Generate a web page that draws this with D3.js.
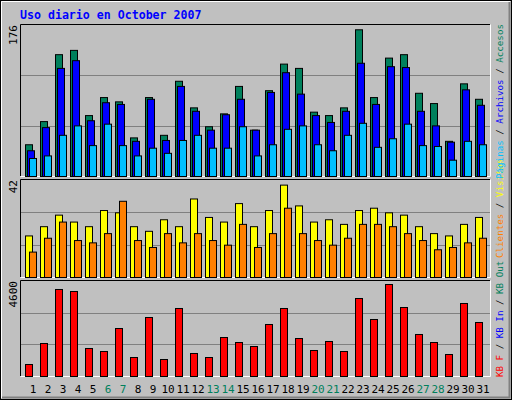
<!DOCTYPE html>
<html><head><meta charset="utf-8">
<script src="https://cdn.jsdelivr.net/npm/d3@7/dist/d3.min.js"></script>
<style>body{margin:0;background:#fff}text{font-family:"DejaVu Sans Mono",monospace}</style>
</head><body><svg id="c" width="512" height="400"></svg>
<script>
const days = d3.range(1,32);
const weekend = [6,7,13,14,20,21,27,28];
const hits   = [37,64,142,147,71,92,87,45,92,48,111,80,58,73,105,54,100,131,126,75,71,80,171,92,138,142,97,85,41,108,90];
const files  = [30,57,126,135,65,86,84,41,90,42,105,76,54,72,90,54,98,121,96,71,63,76,132,84,128,127,76,59,40,101,83];
const pages  = [21,24,48,59,36,61,36,24,33,27,42,48,33,33,58,24,37,55,59,37,30,48,62,34,44,61,36,35,19,41,37];
const visits = [18,22,27,24,22,29,28,22,20,25,22,34,26,24,32,22,29,40,31,24,25,23,29,30,28,27,22,19,18,23,26];
const sites  = [11,17,24,16,15,19,33,16,13,19,15,19,16,14,23,13,19,30,19,16,14,17,23,23,22,19,16,12,13,15,17];
const kbytes = [581,1598,4213,4116,1356,1211,2324,920,2857,823,3293,1114,920,1888,1646,1453,2518,3293,1840,1259,1695,1211,3777,2760,4455,3341,2034,1646,1065,3535,2615];
const maxTop=176, maxMid=42, maxBot=4600;

const svg=d3.select("#c");
svg.append("rect").attr("x",0).attr("y",0).attr("width",512).attr("height",400).attr("fill","#c0c0c0");
svg.append("rect").attr("x",0.5).attr("y",0.5).attr("width",511).attr("height",399).attr("fill","none").attr("stroke","#000");
svg.append("path").attr("d","M1.5,398V1.5H510").attr("stroke","#fff").attr("fill","none");
svg.append("path").attr("d","M2,397.5H509.5V2").attr("stroke","#808080").attr("stroke-width",2).attr("fill","none");

svg.append("text").attr("x",20).attr("y",19).attr("fill","#0000ff").attr("font-size",11.6).attr("font-weight","bold").text("Uso diario en October 2007");

const x=d3.scaleBand().domain(days).range([21,486]).paddingInner(0);
const X=d=>25+(x(d)-21)*(15/x.bandwidth());

function panel(top,bot,max,label){
  const y=d3.scaleLinear().domain([0,max]).range([bot,top]);
  const g=svg.append("g");
  [max/3,2*max/3].forEach(v=>g.append("line").attr("x1",21).attr("x2",490).attr("y1",Math.round(y(v))+0.5).attr("y2",Math.round(y(v))+0.5).attr("stroke","#808080"));
  g.append("path").attr("d",`M20.5,${bot}V${top-0.5}H490`).attr("stroke","#000").attr("fill","none");
  g.append("path").attr("d",`M20.5,${bot+0.5}H490.5V${top-0.5}`).attr("stroke","#fff").attr("fill","none");
  svg.append("text").attr("transform",`translate(17,${top})rotate(-90)`).attr("text-anchor","end").attr("font-size",11).attr("fill","#000").text(label);
  return y;
}
function bars(y,data,off,color,w){
  svg.append("g").selectAll("rect").data(data).join("rect")
    .attr("x",(d,i)=>X(days[i])+off+0.5).attr("y",d=>y(d)+0.5)
    .attr("width",w).attr("height",d=>Math.max(0,y(0)-y(d)))
    .attr("fill",color).attr("stroke","#000").attr("stroke-width",1);
}
const yT=panel(25,176,maxTop,"176");
bars(yT,hits,0,"#00805c",7);
bars(yT,files,2,"#0000ff",7);
bars(yT,pages,4,"#00c0ff",7);
const yM=panel(180,277,maxMid,"42");
bars(yM,visits,0,"#ffff00",7);
bars(yM,sites,4,"#ff8000",7);
const yB=panel(281,376,maxBot,"4600");
bars(yB,kbytes,0,"#ff0000",7);

svg.append("g").selectAll("text").data(days).join("text")
  .attr("x",d=>X(d)+8).attr("y",393).attr("text-anchor","middle").attr("font-size",11)
  .attr("fill",d=>weekend.includes(d)?"#00805c":"#000").text(d=>d);

function legend(y0,parts){
  const t=svg.append("text").attr("transform",`translate(503,${y0})rotate(-90)`).attr("font-size",9.2);
  parts.forEach(([s,c])=>t.append("tspan").attr("fill",c).text(s));
}
legend(377,[["KB F","#ff0000"],[" / ","#000"],["KB In","#0000ff"],[" / ","#000"],["KB Out","#00805c"]]);
legend(258,[["Clientes","#ff8000"],[" / ","#000"],["Visitas","#ffff00"]]);
legend(179,[["Páginas","#00c0ff"],[" / ","#000"],["Archivos","#0000ff"],[" / ","#000"],["Accesos","#00805c"]]);
</script></body></html>
